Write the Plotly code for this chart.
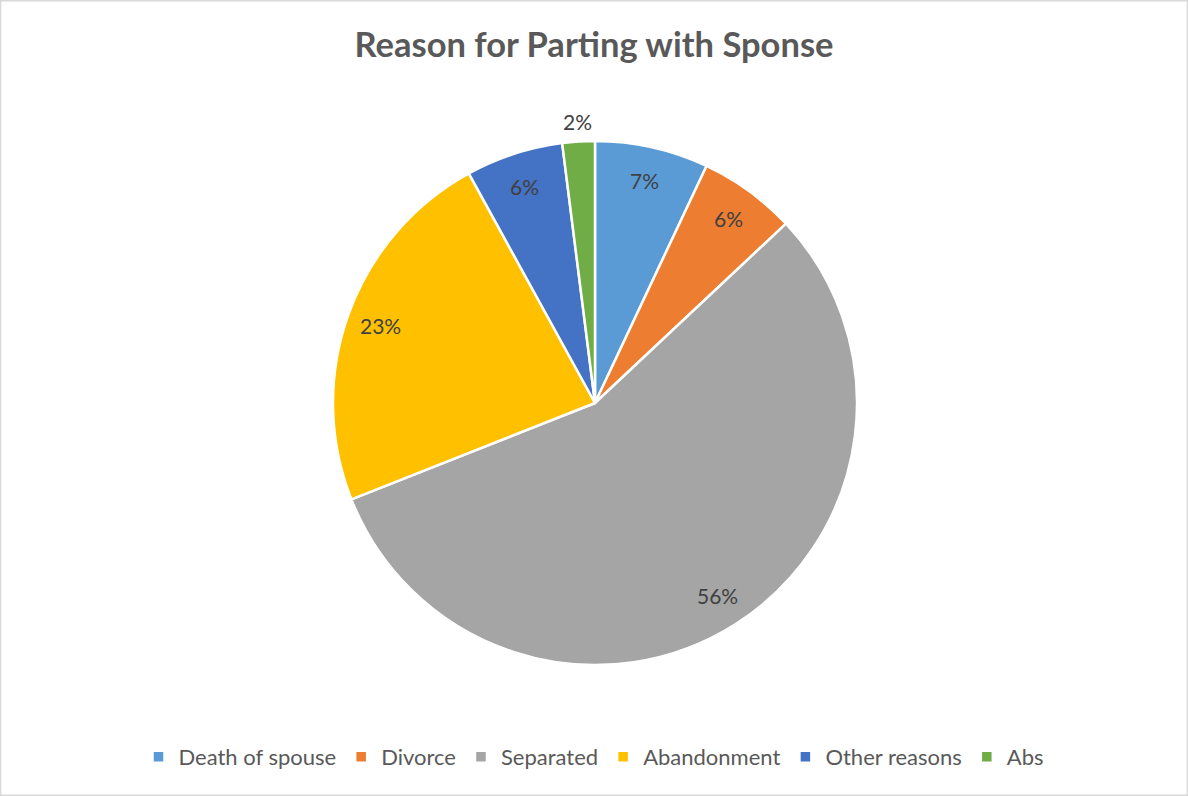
import math
import plotly.graph_objects as go

# Reasons for parting and their shares (percent)
reasons = ["Death of spouse", "Divorce", "Separated", "Abandonment", "Other reasons", "Abs"]
shares = [7, 6, 56, 23, 6, 2]
slice_colors = ["#5B9BD5", "#ED7D31", "#A5A5A5", "#FFC000", "#4472C4", "#70AD47"]
label_outside = [False, False, False, False, False, True]

W, H = 1188, 796
cx, cy, R = 595, 403, 262  # pie centre and radius in pixels

fig = go.Figure(
    go.Pie(
        labels=reasons,
        values=shares,
        sort=False,
        direction="clockwise",
        rotation=0,
        marker=dict(colors=slice_colors, line=dict(color="white", width=2.5)),
        textinfo="none",
        domain=dict(x=[(cx - R) / W, (cx + R) / W], y=[1 - (cy + R) / H, 1 - (cy - R) / H]),
        hoverinfo="label+percent",
    )
)

# Percentage labels placed along each slice's mid-angle
total = sum(shares)
annotations = []
cum = 0.0
for share, outside in zip(shares, label_outside):
    mid = (cum + share / 2) / total * 2 * math.pi
    cum += share
    r = R * (1.075 if outside else 0.87)
    px = cx + r * math.sin(mid)
    py = cy - r * math.cos(mid)
    annotations.append(
        dict(
            x=px / W,
            y=1 - py / H,
            xref="paper",
            yref="paper",
            text=f"{round(share / total * 100)}%",
            showarrow=False,
            xanchor="center",
            yanchor="middle",
            font=dict(family="Lato, sans-serif", size=21, color="#404040"),
        )
    )

fig.update_layout(
    width=W,
    height=H,
    margin=dict(l=0, r=0, t=0, b=0),
    paper_bgcolor="white",
    plot_bgcolor="white",
    title=dict(
        text="<b>Reason for Parting with Sponse</b>",
        x=0.5,
        xanchor="center",
        y=1 - 45 / H,
        yanchor="middle",
        yref="container",
        font=dict(family="Lato, sans-serif", size=34.5, color="#595959"),
    ),
    legend=dict(
        orientation="h",
        x=0.5,
        xanchor="center",
        y=1 - 757 / H,
        yanchor="middle",
        itemwidth=30,
        font=dict(family="Lato, sans-serif", size=22, color="#595959"),
        itemclick=False,
    ),
    annotations=annotations,
    shapes=[
        dict(type="rect", xref="paper", yref="paper", x0=0.0005, y0=0.0008, x1=0.9995, y1=0.9992,
             line=dict(color="#D9D9D9", width=1.5), fillcolor="rgba(0,0,0,0)", layer="below")
    ],
)

fig.write_html("out.html")
